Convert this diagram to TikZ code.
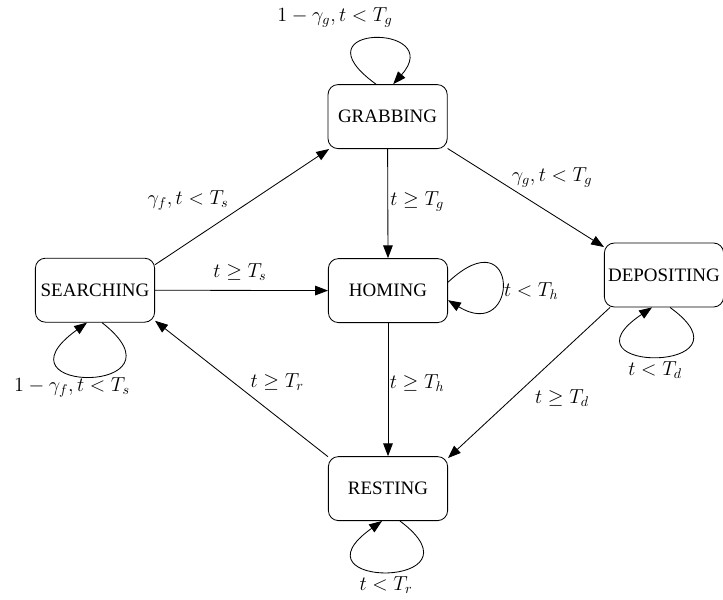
\documentclass[tikz,border=0pt]{standalone}
\usepackage{amsmath,amssymb}
\usepackage{fontspec}
\setmainfont{Liberation Serif}
\usetikzlibrary{arrows.meta}

\begin{document}
\begin{tikzpicture}[>={Triangle[length=3.2mm,width=2.4mm]},font=\fontsize{14.4}{17}\selectfont,line width=0.6pt,
  state/.style={draw,rounded corners=2.5mm,minimum width=2.98cm,minimum height=1.6cm,inner xsep=1pt,font=\fontsize{13.5}{16}\selectfont}]
\useasboundingbox (0,0) rectangle (18.075,14.975);
\node[state] (grab) at (9.69,12.06) {GRABBING};
\node[state] (search) at (2.375,7.72) {SEARCHING};
\node[state] (home) at (9.7,7.71) {HOMING};
\node[state] (depo) at (16.6,8.1) {DEPOSITING};
\node[state] (rest) at (9.7,2.76) {RESTING};
\draw[->] (search.23) -- (grab.209);
\draw[->] (search.east) -- (home.west);
\draw[->] (grab.south) -- (home.north);
\draw[->] (grab.332) -- (depo.155);
\draw[->] (home.south) -- (rest.north);
\draw[->] (depo.211) -- (rest.27);
\draw[->] (rest.152) -- (search.333);
% self loops
\draw[->] ([xshift=-0.29cm]grab.north) .. controls +(-2.1,1.52) and +(1.35,1.52) .. ([xshift=0.14cm]grab.north);
\draw[->] ([xshift=0.175cm]search.south) .. controls +(2.3,-1.8) and +(-2.5,-1.8) .. ([xshift=-0.2cm]search.south);
\draw[->] ([yshift=0.21cm]home.east) .. controls +(1.8,1.69) and +(1.8,-1.1) .. ([yshift=-0.24cm]home.east);
\draw[->] ([xshift=0.15cm]depo.south) .. controls +(2.28,-1.65) and +(-2.45,-1.65) .. ([xshift=-0.3cm]depo.south);
\draw[->] ([xshift=0.3cm]rest.south) .. controls +(2.26,-1.7) and +(-2.4,-1.7) .. ([xshift=-0.15cm]rest.south);
% labels
\node (lgrab) at (8.375,14.55) {$1-\gamma_g, t<T_g$};
\node (lsg) at (4.7,9.975) {$\gamma_f, t<T_s$};
\node (lsh) at (6.0,8.18) {$t\geq T_s$};
\node (lgh) at (10.43,9.93) {$t\geq T_g$};
\node (lgd) at (13.8,10.53) {$\gamma_g, t<T_g$};
\node (lhome) at (13.28,7.7) {$t<T_h$};
\node (lrs) at (6.93,5.43) {$t\geq T_r$};
\node (lhr) at (10.43,5.4) {$t\geq T_h$};
\node (ldr) at (14.05,5.03) {$t\geq T_d$};
\node (lsearch) at (1.8,5.28) {$1-\gamma_f, t<T_s$};
\node (ldepo) at (16.38,5.73) {$t<T_d$};
\node (lrest) at (9.65,0.35) {$t<T_r$};
\end{tikzpicture}
\end{document}
